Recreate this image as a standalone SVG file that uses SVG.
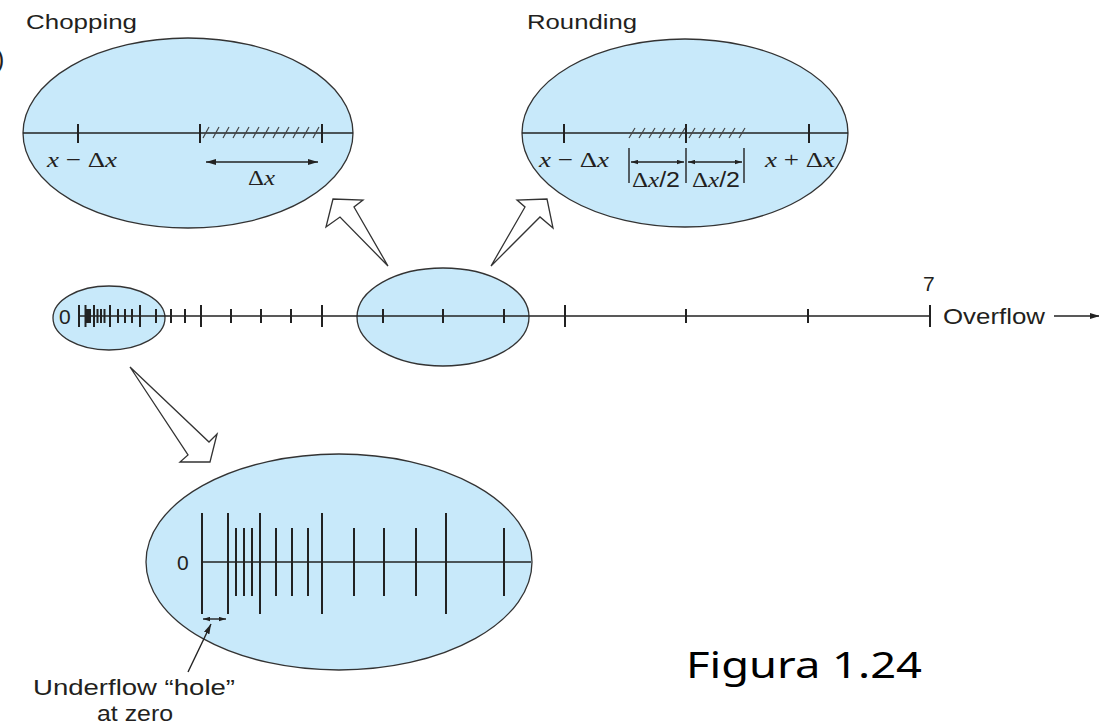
<svg xmlns="http://www.w3.org/2000/svg" width="1099" height="727" viewBox="0 0 1099 727">
  <style>
    .bubble { fill: #c8e9fa; stroke: #333; stroke-width: 1.3; }
    .axis { stroke: #222; stroke-width: 1.6; fill: none; }
    .tick { stroke: #222; stroke-width: 2; }
    .thin { stroke: #222; stroke-width: 1.4; fill: none; }
    .hatch { stroke: #444; stroke-width: 1.2; }
    .hollow { fill: #fff; stroke: #333; stroke-width: 1.3; stroke-linejoin: miter; }
    .sans { font-family: "Liberation Sans", Arial, sans-serif; fill: #231f20; }
    .serif { font-family: "Liberation Serif", "Times New Roman", serif; fill: #231f20; }
    .it { font-style: italic; }
    .cap { font-family: "Noto Sans", "Open Sans", sans-serif; fill: #000; }
  </style>
  <defs>
    <marker id="ah" viewBox="0 0 10 6" refX="10" refY="3" markerWidth="10" markerHeight="6" markerUnits="userSpaceOnUse" orient="auto-start-reverse">
      <path d="M0,0 L10,3 L0,6 Z" fill="#222"/>
    </marker>
    <marker id="ahs" viewBox="0 0 8 5" refX="8" refY="2.5" markerWidth="7" markerHeight="5" markerUnits="userSpaceOnUse" orient="auto-start-reverse">
      <path d="M0,0 L8,2.5 L0,5 Z" fill="#222"/>
    </marker>
  </defs>

  <rect width="1099" height="727" fill="#fff"/>

  <!-- clipped caption fragment at the left edge -->
  <text class="sans" x="-4" y="68" font-size="25">)</text>

  <!-- Chopping detail -->
  <g id="chopping">
    <text class="sans" x="26" y="29" font-size="21" textLength="111" lengthAdjust="spacingAndGlyphs">Chopping</text>
    <ellipse class="bubble" cx="188" cy="133" rx="165" ry="95"/>
    <line class="axis" x1="23" y1="133" x2="353" y2="133"/>
    <line class="tick" x1="78" y1="124" x2="78" y2="143"/>
    <line class="tick" x1="200" y1="124" x2="200" y2="143"/>
    <line class="tick" x1="322" y1="124" x2="322" y2="143"/>
    <g class="hatch">
      <line x1="203" y1="138" x2="209" y2="127"/>
      <line x1="213" y1="138" x2="219" y2="127"/>
      <line x1="223" y1="138" x2="229" y2="127"/>
      <line x1="233" y1="138" x2="239" y2="127"/>
      <line x1="243" y1="138" x2="249" y2="127"/>
      <line x1="253" y1="138" x2="259" y2="127"/>
      <line x1="263" y1="138" x2="269" y2="127"/>
      <line x1="273" y1="138" x2="279" y2="127"/>
      <line x1="283" y1="138" x2="289" y2="127"/>
      <line x1="293" y1="138" x2="299" y2="127"/>
      <line x1="303" y1="138" x2="309" y2="127"/>
      <line x1="313" y1="138" x2="319" y2="127"/>
    </g>
    <line class="thin" x1="206" y1="162" x2="318" y2="162" marker-start="url(#ah)" marker-end="url(#ah)"/>
    <text class="serif" x="47" y="167" font-size="22" textLength="70" lengthAdjust="spacingAndGlyphs"><tspan class="it">x</tspan> − Δ<tspan class="it">x</tspan></text>
    <text class="serif" x="248" y="185" font-size="22" textLength="27" lengthAdjust="spacingAndGlyphs">Δ<tspan class="it">x</tspan></text>
  </g>

  <!-- Rounding detail -->
  <g id="rounding">
    <text class="sans" x="527" y="29" font-size="21" textLength="110" lengthAdjust="spacingAndGlyphs">Rounding</text>
    <ellipse class="bubble" cx="685" cy="133" rx="163" ry="94"/>
    <line class="axis" x1="522" y1="133" x2="848" y2="133"/>
    <line class="tick" x1="564" y1="124" x2="564" y2="143"/>
    <line class="tick" x1="686" y1="124" x2="686" y2="143"/>
    <line class="tick" x1="809" y1="124" x2="809" y2="143"/>
    <g class="hatch">
      <line x1="629" y1="138" x2="635" y2="128"/>
      <line x1="639" y1="138" x2="645" y2="128"/>
      <line x1="649" y1="138" x2="655" y2="128"/>
      <line x1="659" y1="138" x2="665" y2="128"/>
      <line x1="669" y1="138" x2="675" y2="128"/>
      <line x1="679" y1="138" x2="685" y2="128"/>
      <line x1="689" y1="138" x2="695" y2="128"/>
      <line x1="699" y1="138" x2="705" y2="128"/>
      <line x1="709" y1="138" x2="715" y2="128"/>
      <line x1="719" y1="138" x2="725" y2="128"/>
      <line x1="729" y1="138" x2="735" y2="128"/>
      <line x1="739" y1="138" x2="745" y2="128"/>
    </g>
    <line class="thin" x1="629" y1="148" x2="629" y2="183"/>
    <line class="thin" x1="686" y1="148" x2="686" y2="183"/>
    <line class="thin" x1="744" y1="148" x2="744" y2="183"/>
    <line class="thin" x1="631" y1="162" x2="684" y2="162" marker-start="url(#ahs)" marker-end="url(#ahs)"/>
    <line class="thin" x1="688" y1="162" x2="742" y2="162" marker-start="url(#ahs)" marker-end="url(#ahs)"/>
    <text class="serif" x="539" y="167" font-size="22" textLength="70" lengthAdjust="spacingAndGlyphs"><tspan class="it">x</tspan> − Δ<tspan class="it">x</tspan></text>
    <text class="serif" x="765" y="167" font-size="22" textLength="70" lengthAdjust="spacingAndGlyphs"><tspan class="it">x</tspan> + Δ<tspan class="it">x</tspan></text>
    <text class="serif" x="632" y="187" font-size="22" textLength="48" lengthAdjust="spacingAndGlyphs">Δ<tspan class="it">x</tspan><tspan class="sans">/2</tspan></text>
    <text class="serif" x="692" y="187" font-size="22" textLength="48" lengthAdjust="spacingAndGlyphs">Δ<tspan class="it">x</tspan><tspan class="sans">/2</tspan></text>
  </g>

  <!-- Magnifier bubbles on the number line -->
  <g id="zoom-zero">
    <ellipse class="bubble" cx="109" cy="318" rx="56" ry="32"/>
  </g>
  <g id="zoom-middle">
    <ellipse class="bubble" cx="443" cy="317" rx="86" ry="49"/>
  </g>

  <!-- Number line from 0 to 7 -->
  <g id="number-line">
    <text class="sans" x="59" y="324" font-size="21">0</text>
    <line class="axis" x1="79" y1="316" x2="930" y2="316"/>
    <!-- long ticks at each power of two -->
    <g class="tick">
      <line x1="79" y1="305" x2="79" y2="327"/>
      <line x1="85.5" y1="305" x2="85.5" y2="327"/>
      <line x1="94" y1="305" x2="94" y2="327"/>
      <line x1="110" y1="305" x2="110" y2="327"/>
      <line x1="140" y1="305" x2="140" y2="327"/>
      <line x1="201" y1="305" x2="201" y2="327"/>
      <line x1="322" y1="305" x2="322" y2="327"/>
      <line x1="565" y1="305" x2="565" y2="327"/>
      <line x1="930" y1="305" x2="930" y2="327"/>
    </g>
    <!-- short ticks -->
    <g class="tick">
      <line x1="87" y1="309" x2="87" y2="323"/>
      <line x1="88.5" y1="309" x2="88.5" y2="323"/>
      <line x1="90" y1="309" x2="90" y2="323"/>
      <line x1="97.5" y1="309" x2="97.5" y2="323"/>
      <line x1="101" y1="309" x2="101" y2="323"/>
      <line x1="104.5" y1="309" x2="104.5" y2="323"/>
      <line x1="118" y1="309" x2="118" y2="323"/>
      <line x1="125" y1="309" x2="125" y2="323"/>
      <line x1="132" y1="309" x2="132" y2="323"/>
      <line x1="156" y1="309" x2="156" y2="323"/>
      <line x1="171" y1="309" x2="171" y2="323"/>
      <line x1="185" y1="309" x2="185" y2="323"/>
      <line x1="231" y1="309" x2="231" y2="323"/>
      <line x1="261" y1="309" x2="261" y2="323"/>
      <line x1="291" y1="309" x2="291" y2="323"/>
      <line x1="383" y1="309" x2="383" y2="323"/>
      <line x1="443" y1="309" x2="443" y2="323"/>
      <line x1="504" y1="309" x2="504" y2="323"/>
      <line x1="686" y1="309" x2="686" y2="323"/>
      <line x1="808" y1="309" x2="808" y2="323"/>
    </g>
    <text class="sans" x="923" y="291" font-size="21">7</text>
    <text class="sans" x="943" y="324" font-size="22" textLength="102" lengthAdjust="spacingAndGlyphs">Overflow</text>
    <line class="thin" x1="1054" y1="316" x2="1100" y2="316" marker-end="url(#ah)"/>
  </g>

  <!-- Enlarged view around zero -->
  <g id="underflow">
    <ellipse class="bubble" cx="339" cy="562" rx="193" ry="108"/>
    <text class="sans" x="177" y="570" font-size="21">0</text>
    <line class="axis" x1="202" y1="562" x2="531" y2="562"/>
    <g class="tick">
      <line x1="202" y1="513" x2="202" y2="614"/>
      <line x1="228" y1="513" x2="228" y2="614"/>
      <line x1="260" y1="513" x2="260" y2="614"/>
      <line x1="322" y1="513" x2="322" y2="614"/>
      <line x1="446" y1="513" x2="446" y2="614"/>
      <line x1="236" y1="528" x2="236" y2="596"/>
      <line x1="244" y1="528" x2="244" y2="596"/>
      <line x1="252" y1="528" x2="252" y2="596"/>
      <line x1="276" y1="528" x2="276" y2="596"/>
      <line x1="292" y1="528" x2="292" y2="596"/>
      <line x1="308" y1="528" x2="308" y2="596"/>
      <line x1="354" y1="528" x2="354" y2="596"/>
      <line x1="384" y1="528" x2="384" y2="596"/>
      <line x1="416" y1="528" x2="416" y2="596"/>
      <line x1="504" y1="528" x2="504" y2="596"/>
    </g>
    <line class="thin" x1="203" y1="619" x2="226" y2="619" marker-start="url(#ahs)" marker-end="url(#ahs)"/>
    <line class="thin" x1="188" y1="672" x2="211" y2="624" marker-end="url(#ah)"/>
    <text class="sans" x="33" y="695" font-size="22" textLength="202" lengthAdjust="spacingAndGlyphs">Underflow “hole”</text>
    <text class="sans" x="97" y="721" font-size="22" textLength="76" lengthAdjust="spacingAndGlyphs">at zero</text>
  </g>

  <!-- Hollow magnification arrows -->
  <g id="connectors">
    <polygon class="hollow" points="388,266 354,207 363,200 333,199 326,227 340,217"/>
    <polygon class="hollow" points="491,266 525,207 517,200 547,199 553,228 540,217"/>
    <polygon class="hollow" points="130,367 209,442 217,434 210,462 180,462 188,455"/>
  </g>

  <text class="cap" x="686" y="678" font-size="37" textLength="236" lengthAdjust="spacingAndGlyphs">Figura 1.24</text>
</svg>
